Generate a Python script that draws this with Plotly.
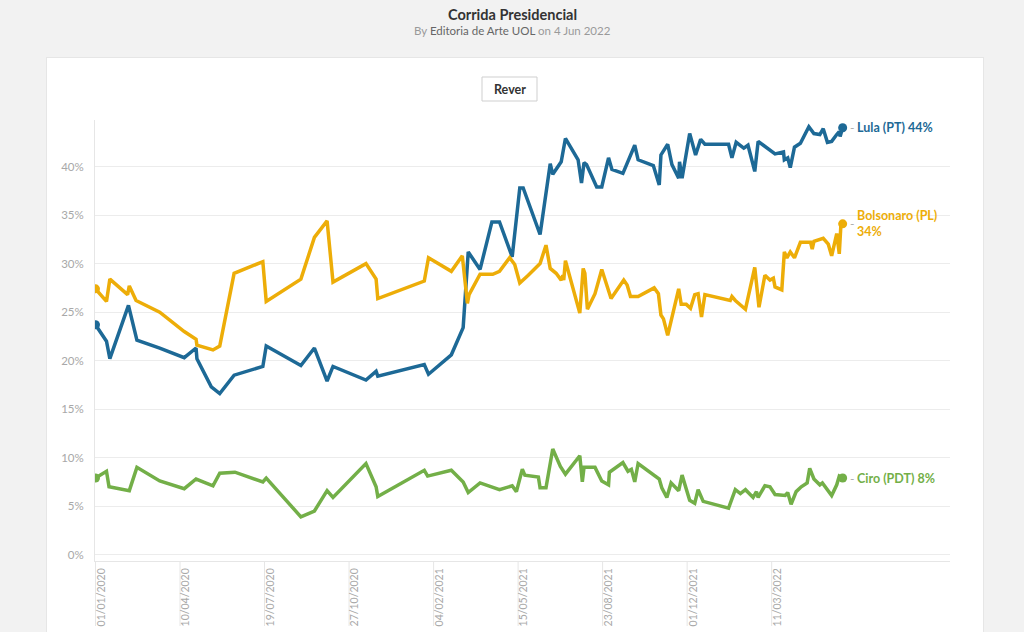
import plotly.graph_objects as go

# ---------------- data ----------------
lula_dates = ["2020-01-01","2020-01-14","2020-01-18","2020-02-09","2020-02-19","2020-03-17","2020-04-15","2020-04-29","2020-04-30","2020-05-17",
              "2020-05-27","2020-06-13","2020-07-17","2020-07-21","2020-08-31","2020-09-16","2020-10-01","2020-10-08","2020-11-16","2020-11-28",
              "2020-11-30","2021-01-24","2021-01-29","2021-02-25","2021-03-11","2021-03-17","2021-03-31","2021-04-14","2021-04-23","2021-05-08",
              "2021-05-17","2021-05-21","2021-06-10","2021-06-22","2021-06-25","2021-07-05","2021-07-10","2021-07-25","2021-07-29","2021-08-01",
              "2021-08-04","2021-08-16","2021-08-22","2021-08-30","2021-09-03","2021-09-16","2021-09-30","2021-10-04","2021-10-22","2021-10-29",
              "2021-10-31","2021-11-08","2021-11-13","2021-11-21","2021-11-22","2021-11-25","2021-12-04","2021-12-11","2021-12-17","2021-12-22",
              "2022-01-19","2022-01-23","2022-01-28","2022-02-06","2022-02-11","2022-02-19","2022-02-23","2022-03-11","2022-03-15","2022-03-25",
              "2022-03-26","2022-03-30","2022-04-02","2022-04-07","2022-04-14","2022-04-24","2022-04-30","2022-05-07","2022-05-11","2022-05-16",
              "2022-05-21","2022-05-27","2022-05-30","2022-05-31","2022-06-03"]
lula_vals = [23.7,22.0,20.2,25.7,22.1,21.3,20.3,21.3,20.2,17.3,
             16.6,18.5,19.4,21.5,19.5,21.3,17.9,19.4,18.0,18.9,
             18.4,19.6,18.6,20.6,23.4,31.2,29.4,34.3,34.3,30.7,
             37.8,37.8,33.0,40.3,39.2,40.5,42.9,40.7,38.3,40.4,
             40.2,37.9,37.9,40.9,39.7,39.3,42.2,40.7,40.1,38.1,
             41.2,42.3,40.2,38.8,40.5,38.8,43.4,41.2,42.8,42.3,
             42.3,40.9,42.5,41.9,42.2,39.5,42.6,41.5,41.3,41.5,
             40.7,40.9,39.9,42.0,42.4,44.1,43.4,43.3,43.9,42.5,
             42.6,43.3,43.6,43.1,44.0]

bolso_dates = ["2020-01-01","2020-01-14","2020-01-18","2020-02-08","2020-02-10","2020-02-18","2020-03-17","2020-04-15","2020-04-29","2020-04-30",
               "2020-05-19","2020-05-27","2020-06-13","2020-07-17","2020-07-21","2020-08-31","2020-09-16","2020-10-01","2020-10-08","2020-11-16",
               "2020-11-28","2020-11-30","2021-01-24","2021-01-29","2021-02-25","2021-03-10","2021-03-16","2021-03-18","2021-03-31","2021-04-15",
               "2021-04-23","2021-05-05","2021-05-11","2021-05-17","2021-05-27","2021-06-10","2021-06-17","2021-06-22","2021-06-29","2021-07-05",
               "2021-07-07","2021-07-08","2021-07-10","2021-07-15","2021-07-27","2021-07-31","2021-08-02","2021-08-05","2021-08-14","2021-08-22",
               "2021-09-02","2021-09-17","2021-09-21","2021-09-25","2021-09-30","2021-10-04","2021-10-23","2021-10-28","2021-10-31","2021-11-03",
               "2021-11-08","2021-11-21","2021-11-24","2021-11-30","2021-12-05","2021-12-10","2021-12-14","2021-12-18","2021-12-22","2022-01-21",
               "2022-01-23","2022-01-27","2022-02-08","2022-02-19","2022-02-24","2022-03-03","2022-03-09","2022-03-13","2022-03-15","2022-03-23",
               "2022-03-26","2022-03-29","2022-04-02","2022-04-07","2022-04-14","2022-04-26","2022-04-28","2022-04-30","2022-05-11","2022-05-17",
               "2022-05-21","2022-05-27","2022-05-30","2022-06-01","2022-06-03"]
bolso_vals = [27.4,26.1,28.4,26.8,27.7,26.2,25.0,23.0,22.2,21.6,
              21.1,21.5,29.0,30.2,26.1,28.4,32.7,34.4,28.1,30.0,
              28.4,26.4,28.2,30.6,29.2,30.8,25.9,26.8,28.9,28.9,
              29.2,30.6,29.9,28.0,28.8,30.0,31.9,29.5,29.0,28.3,
              28.8,28.3,30.3,28.7,24.9,29.5,29.0,25.3,26.9,29.4,
              26.4,28.3,27.8,26.6,26.6,26.6,27.5,26.9,24.7,24.3,
              22.6,27.4,25.8,25.8,25.4,26.8,26.9,24.5,26.8,26.2,
              26.6,26.2,25.3,29.6,25.5,28.8,28.3,28.5,27.6,27.3,
              31.2,30.6,31.2,30.6,32.2,32.2,31.5,32.3,32.6,32.0,
              30.8,33.1,31.0,34.1,34.1]

ciro_dates = ["2020-01-01","2020-01-14","2020-01-17","2020-02-10","2020-02-19","2020-03-17","2020-04-15","2020-04-29","2020-05-19","2020-05-27",
              "2020-06-14","2020-07-17","2020-07-21","2020-08-31","2020-09-16","2020-10-01","2020-10-08","2020-11-16","2020-11-28","2020-11-30",
              "2021-01-24","2021-01-28","2021-02-25","2021-03-11","2021-03-17","2021-03-31","2021-04-23","2021-05-08","2021-05-13","2021-05-20",
              "2021-05-23","2021-06-08","2021-06-10","2021-06-17","2021-06-25","2021-07-04","2021-07-10","2021-07-27","2021-07-30","2021-08-01",
              "2021-08-14","2021-08-22","2021-08-30","2021-08-31","2021-09-16","2021-09-22","2021-09-26","2021-09-30","2021-10-04","2021-10-17",
              "2021-10-24","2021-10-29","2021-11-01","2021-11-07","2021-11-12","2021-11-21","2021-11-25","2021-12-04","2021-12-10","2021-12-14",
              "2021-12-20","2022-01-19","2022-01-27","2022-02-02","2022-02-08","2022-02-17","2022-02-21","2022-02-23","2022-03-03","2022-03-09",
              "2022-03-15","2022-03-27","2022-03-30","2022-04-03","2022-04-09","2022-04-15","2022-04-22","2022-04-25","2022-04-30","2022-05-07",
              "2022-05-10","2022-05-21","2022-05-27","2022-05-30","2022-06-03"]
ciro_vals = [7.9,8.6,7.0,6.6,9.0,7.6,6.8,7.8,7.1,8.4,
             8.5,7.5,7.9,3.9,4.5,6.6,5.9,9.4,7.0,6.0,
             8.7,8.1,8.7,7.5,6.4,7.4,6.7,7.1,6.5,8.8,
             8.2,8.0,6.9,6.9,10.9,9.1,8.3,10.2,7.5,9.0,
             9.0,7.6,7.2,8.5,9.5,8.6,8.8,7.5,9.4,8.6,
             8.1,7.8,6.9,5.9,7.4,6.6,8.2,5.6,5.3,6.7,
             5.5,4.8,6.7,6.3,6.7,5.9,6.5,5.9,7.1,7.0,
             6.2,6.1,6.4,5.2,6.5,7.0,7.4,8.9,7.8,7.2,
             7.4,6.1,7.2,8.1,7.9]

series_names = ["Lula (PT)", "Bolsonaro (PL)", "Ciro (PDT)"]
tick_dates = ["2020-01-01","2020-04-10","2020-07-19","2020-10-27","2021-02-04","2021-05-15","2021-08-23","2021-12-01","2022-03-11"]
tick_labels = ["01/01/2020","10/04/2020","19/07/2020","27/10/2020","04/02/2021","15/05/2021","23/08/2021","01/12/2021","11/03/2022"]
y_ticks = [0, 5, 10, 15, 20, 25, 30, 35, 40]
y_tick_labels = [f"{v}%" for v in y_ticks]

# ---------------- style ----------------
FONT = "Source Sans Pro, Lato, sans-serif"
colors = ["#1D6996", "#EDAD08", "#73AF48"]
all_series = [(lula_dates, lula_vals), (bolso_dates, bolso_vals), (ciro_dates, ciro_vals)]

fig = go.Figure()
for (d, v), name, c in zip(all_series, series_names, colors):
    fig.add_trace(go.Scatter(x=d, y=v, mode="lines", name=name,
                             line=dict(color=c, width=3.5), showlegend=False))
    fig.add_trace(go.Scatter(x=[d[0], d[-1]], y=[v[0], v[-1]], mode="markers",
                             marker=dict(color=c, size=9), showlegend=False, hoverinfo="skip"))

L, R, T, B = 95, 74, 120, 71
PW, PH = 1024 - L - R, 632 - T - B

def px(xp):
    return (xp - L) / PW

def py(yp):
    return (632 - B - yp) / PH

shapes = []
# page card
shapes.append(dict(type="rect", xref="paper", yref="paper", x0=px(46), x1=px(984), y0=py(660), y1=py(57),
                   fillcolor="#e6e6e6", line=dict(width=0), layer="below"))
shapes.append(dict(type="rect", xref="paper", yref="paper", x0=px(47), x1=px(983), y0=py(660), y1=py(58),
                   fillcolor="white", line=dict(width=0), layer="below"))
# Rever button
shapes.append(dict(type="rect", xref="paper", yref="paper", x0=px(482), x1=px(537), y0=py(101), y1=py(77),
                   fillcolor="white", line=dict(color="#cfcfcf", width=1), layer="above"))
# long x tick lines
for t in tick_dates:
    shapes.append(dict(type="line", xref="x", yref="paper", x0=t, x1=t, y0=0, y1=py(626),
                       line=dict(color="#e6e6e6", width=1), layer="below"))

annotations = [
    dict(text="<b>Corrida Presidencial</b>", xref="paper", yref="paper", x=px(512), y=py(14),
         showarrow=False, font=dict(family=FONT, size=14.5, color="#333333"), xanchor="center", yanchor="middle"),
    dict(text="<span style='color:#9a9a9a'>By </span><span style='color:#666666'>Editoria de Arte UOL</span>"
              "<span style='color:#9a9a9a'> on 4 Jun 2022</span>",
         xref="paper", yref="paper", x=px(512), y=py(30), showarrow=False,
         font=dict(family=FONT, size=11.5, color="#999999"), xanchor="center", yanchor="middle"),
    dict(text="<b>Rever</b>", xref="paper", yref="paper", x=px(509.5), y=py(89), showarrow=False,
         font=dict(family=FONT, size=12.5, color="#333333"), xanchor="center", yanchor="middle"),
]

for (d, v), name, c in zip(all_series, series_names, colors):
    annotations.append(dict(text="-", x=d[-1], y=v[-1], xref="x", yref="y", showarrow=False,
                            xanchor="left", yanchor="middle", xshift=5,
                            font=dict(family=FONT, size=12, color="#aaaaaa")))
    if name.startswith("Bolsonaro"):
        label = f"<b>{name}<br>{round(v[-1])}%</b>"
    else:
        label = f"<b>{name} {round(v[-1])}%</b>"
    annotations.append(dict(text=label, x=d[-1], y=v[-1], xref="x", yref="y", showarrow=False,
                            xanchor="left", yanchor="middle", xshift=12, align="left",
                            font=dict(family=FONT, size=12.5, color=c)))

fig.update_layout(
    width=1024, height=632,
    margin=dict(l=L, r=R, t=T, b=B, pad=0, autoexpand=False),
    paper_bgcolor="#f2f2f2", plot_bgcolor="white",
    font=dict(family=FONT),
    shapes=shapes, annotations=annotations,
    xaxis=dict(type="date", range=["2019-12-31 10:00", "2022-10-08"],
               tickvals=tick_dates, ticktext=tick_labels, tickangle=-90,
               tickfont=dict(family=FONT, size=10.5, color="#a8a8a8"),
               showgrid=False, zeroline=False, showline=True, linecolor="#e6e6e6", linewidth=1,
               ticks="", ticklabelshift=6, ticklabelstandoff=2, fixedrange=True, automargin=False),
    yaxis=dict(range=[-0.65, 44.8], tickvals=y_ticks, ticktext=y_tick_labels,
               tickfont=dict(family=FONT, size=11.5, color="#a8a8a8"),
               showgrid=True, gridcolor="#ececec", gridwidth=1, zeroline=False,
               showline=True, linecolor="#e6e6e6", linewidth=1,
               ticks="", ticklabelstandoff=8, fixedrange=True, automargin=False),
    hovermode=False,
)

fig.write_html("out.html", config={"displayModeBar": False},
               post_script="document.body.style.margin='0';document.body.style.overflow='hidden';")
